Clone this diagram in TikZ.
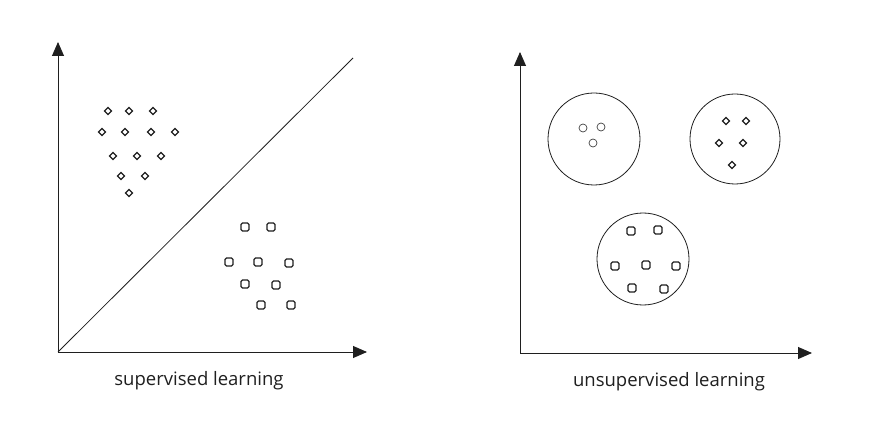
\documentclass[tikz,border=0pt]{standalone}
\usepackage{fontspec}
\setmainfont{Open Sans}
\usetikzlibrary{arrows.meta,shapes.geometric}
\begin{document}
\begin{tikzpicture}[x=1pt,y=-1pt,
  axis/.style={draw=black!88, line width=0.9pt, -{Triangle[length=14pt,width=12pt]}},
  dmd/.style={draw=black!88, line width=1.2pt, diamond, minimum size=7.5pt, inner sep=0pt},
  sq/.style={draw=black!88, line width=1.2pt, rectangle, rounded corners=1.5pt, minimum size=8pt, inner sep=0pt},
  dot/.style={draw=black!75, line width=0.7pt, circle, minimum size=8pt, inner sep=0pt},
  grp/.style={draw=black!88, line width=0.8pt, circle, inner sep=0pt},
  lbl/.style={font=\fontsize{18.5}{22}\selectfont, text=black!88, inner sep=0pt}
]
\useasboundingbox (0,0) rectangle (888,446);
% left panel
\coordinate (o1) at (58,352);
\coordinate (yl) at (58,42);
\coordinate (xl) at (367,352);
\coordinate (dl) at (353,58);
\draw[axis] (o1) -- (yl);
\draw[axis] (o1) -- (xl);
\draw[draw=black!88, line width=0.8pt] (o1) -- (dl);
% diamonds
\foreach \n/\x/\y in {a1/108/111,a2/129/111,a3/153/111,
  a4/102/132,a5/125/132,a6/151/132,a7/175/132,
  a8/113/156,a9/137/156,a10/161/156,
  a11/121/176,a12/145/176,a13/129/193}
  \node[dmd] (\n) at (\x,\y) {};
% squares
\foreach \n/\x/\y in {b1/245/227,b2/271/227,
  b3/229/262,b4/258/262,b5/289/263,
  b6/245/284,b7/276/285,
  b8/261/305,b9/291/305}
  \node[sq] (\n) at (\x,\y) {};
\node[lbl] (l1) at (199,381) {supervised learning};
% right panel
\coordinate (o2) at (520,353);
\coordinate (yr) at (520,52);
\coordinate (xr) at (812,353);
\draw[axis] (o2) -- (yr);
\draw[axis] (o2) -- (xr);
\node[grp, minimum size=92pt] (c1) at (594,139) {};
\node[grp, minimum size=90pt] (c2) at (735,139) {};
\node[grp, minimum size=92pt] (c3) at (643,259) {};
\foreach \n/\x/\y in {d1/583/128,d2/601/127,d3/593/143}
  \node[dot] (\n) at (\x,\y) {};
\foreach \n/\x/\y in {e1/726/121,e2/746/121,e3/719/143,e4/743/143,e5/732/165}
  \node[dmd] (\n) at (\x,\y) {};
\foreach \n/\x/\y in {f1/631/231,f2/658/230,f3/615/266,f4/646/265,f5/676/266,f6/632/288,f7/664/289}
  \node[sq] (\n) at (\x,\y) {};
\node[lbl] (l2) at (669,382) {unsupervised learning};
\end{tikzpicture}
\end{document}
